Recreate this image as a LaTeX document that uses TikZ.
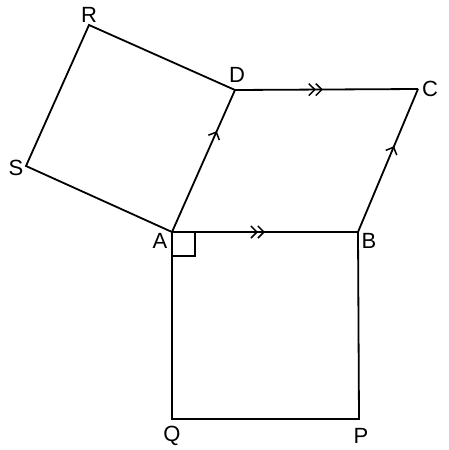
\documentclass[tikz,border=0pt]{standalone}
\usepackage{fontspec}
\setmainfont{Liberation Sans}
\usetikzlibrary{arrows.meta}
\usetikzlibrary{decorations.markings}

\tikzset{
  onearrow/.style={postaction={decorate},decoration={markings,
    mark=at position #1 with {\arrow{Straight Barb[length=6pt,width=12pt,line width=1.5pt]}}}},
  twoarrow/.style={postaction={decorate},decoration={markings,
    mark=at position #1 with {\arrow{Straight Barb[length=6pt,width=12pt,line width=1.5pt]}\arrow[xshift=-7pt]{Straight Barb[length=6pt,width=12pt,line width=1.5pt]}}}},
  lbl/.style={inner sep=0pt,font=\fontsize{22}{24}\selectfont}
}

\begin{document}
\begin{tikzpicture}[x=1pt,y=-1pt,line width=1.8pt]
            \useasboundingbox (0,0) rectangle (448,450);
            \coordinate (A) at (172,232);
            \coordinate (B) at (358,232);
            \coordinate (C) at (418,89);
            \coordinate (D) at (235,90);
            \coordinate (R) at (89,25);
            \coordinate (S) at (26,166);
            \coordinate (Q) at (172,419);
            \coordinate (P) at (359,419);
            \node[lbl] (lA) at (160,241) {A};
            \node[lbl] (lB) at (369,241) {B};
            \node[lbl] (lC) at (430,89) {C};
            \node[lbl] (lD) at (237,75) {D};
            \node[lbl] (lR) at (89,15) {R};
            \node[lbl] (lS) at (16,168) {S};
            \node[lbl] (lQ) at (172,436) {Q};
            \node[lbl] (lP) at (361,436) {P};
            \draw[twoarrow=0.5] (A) -- (B);
            \draw[twoarrow=0.48] (D) -- (C);
            \draw[onearrow=0.71] (A) -- (D);
            \draw[onearrow=0.6] (B) -- (C);
            \draw (D) -- (R) -- (S) -- (A);
            \draw (A) -- (Q) -- (P) -- (B);
            \draw (A) rectangle ++(23,24);
        \end{tikzpicture}
\end{document}
